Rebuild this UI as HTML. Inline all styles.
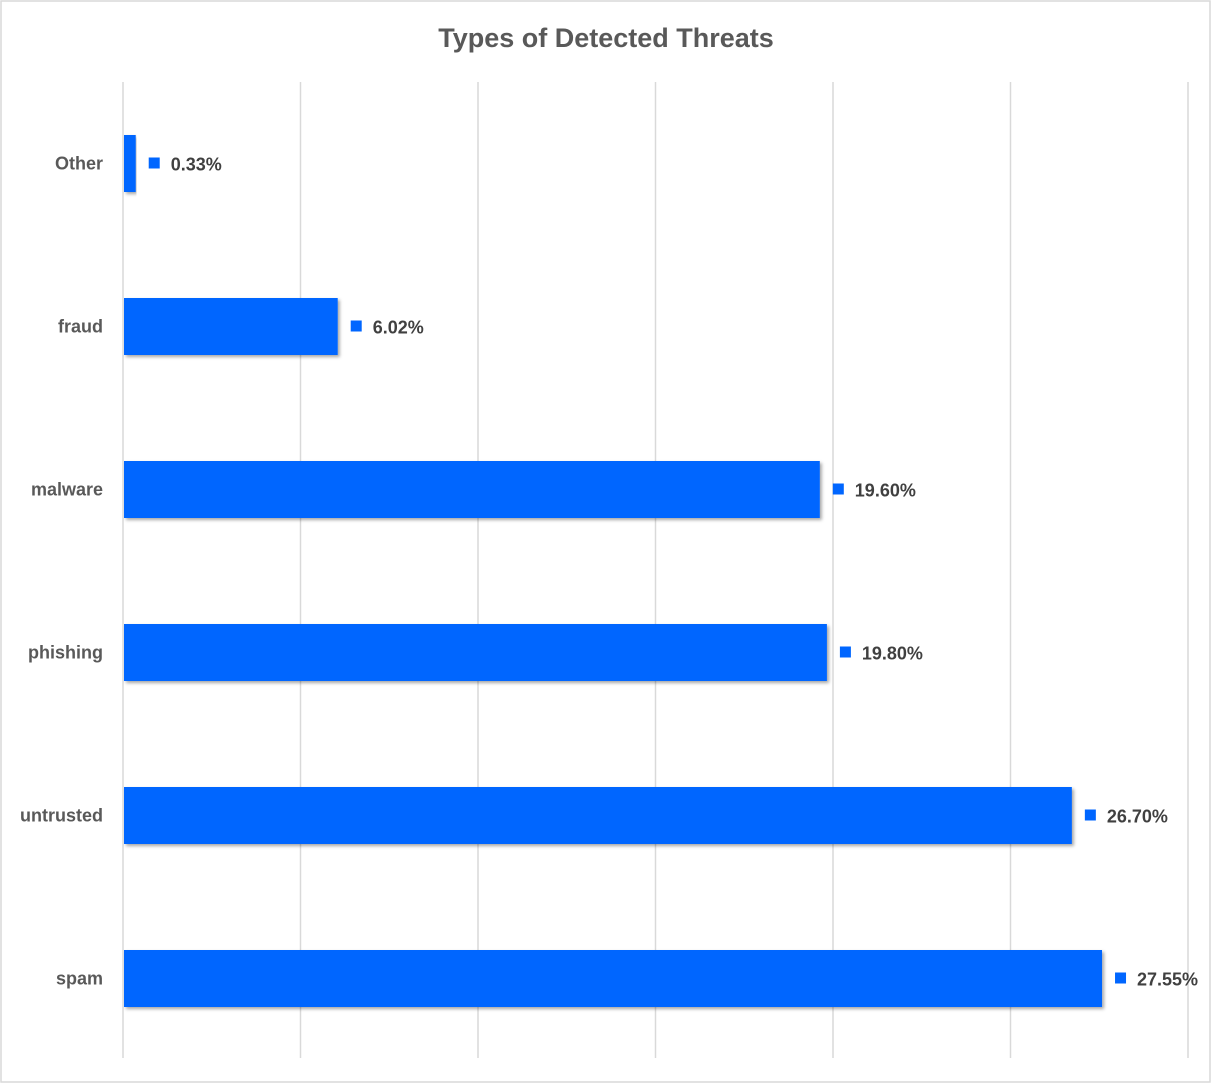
<!DOCTYPE html>
<html><head><meta charset="utf-8"><style>
body{margin:0;background:#fff;}
svg{display:block;font-family:"Liberation Sans",sans-serif;}
</style></head><body>
<svg id="chart" width="1212" height="1084">
<defs><filter id="sh" x="-5%" y="-10%" width="110%" height="130%"><feDropShadow dx="2" dy="2" stdDeviation="1.5" flood-color="#000" flood-opacity="0.35"/></filter></defs>
<rect x="1" y="1" width="1209" height="1081" fill="#fff" stroke="#d9d9d9" stroke-width="1.5"/>
<text x="606" y="47" text-anchor="middle" font-size="27" font-weight="bold" fill="#595959">Types of Detected Threats</text>
<g id="grid"></g><g id="bars"></g>
</svg>
<script>
const categories=["Other","fraud","malware","phishing","untrusted","spam"];
const values=[0.33,6.02,19.60,19.80,26.70,27.55];
const valueLabels=["0.33%","6.02%","19.60%","19.80%","26.70%","27.55%"];
const ticks=[0,5,10,15,20,25,30];
const NS="http://www.w3.org/2000/svg";
const x0=123,x1=1188,vmax=30,yTop=82,yBottom=1060;
const xs=v=>x0+(v/vmax)*(x1-x0);
const band=(yBottom-yTop)/categories.length;
const yc=i=>yTop+band*(i+0.5);
const grid=document.getElementById('grid'),bars=document.getElementById('bars');
function mk(t,a){const e=document.createElementNS(NS,t);for(const k in a)e.setAttribute(k,a[k]);return e;}
ticks.forEach(t=>{const l=mk('line',{x1:xs(t),x2:xs(t),y1:yTop,y2:1058,stroke:'#d9d9d9','stroke-width':1.5});


grid.appendChild(l);});
categories.forEach((c,i)=>{
const h=57,y=yc(i)-h/2,w=xs(values[i])-x0;
const r=mk('rect',{x:x0+1,y:y,width:w,height:h,fill:'#0066ff',filter:'url(#sh)'});


bars.appendChild(r);
const lab=mk('text',{x:103,y:yc(i)+6,'text-anchor':'end','font-size':18,'font-weight':'bold',fill:'#595959'});
lab.textContent=c;


bars.appendChild(lab);
const ex=xs(values[i]);
const sq=mk('rect',{x:ex+14,y:yc(i)-6,width:11,height:11,fill:'#0066ff'});


bars.appendChild(sq);
const vl=mk('text',{x:ex+36,y:yc(i)+7,'font-size':18,'font-weight':'bold',fill:'#404040'});
vl.textContent=valueLabels[i];


bars.appendChild(vl);
});
</script>
</body></html>
